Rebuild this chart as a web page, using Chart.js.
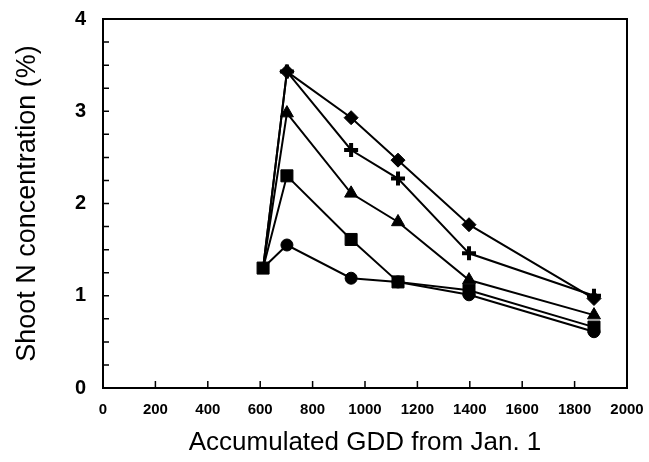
<!DOCTYPE html>
<html lang="en">
<head>
    <meta charset="UTF-8">
    <title>Shoot N concentration</title>
    <script src="https://cdn.jsdelivr.net/npm/chart.js"></script>
    <style>
        body {
            margin: 0;
            padding: 0;
            background: white;
        }
        .container {
            width: 649px;
            height: 462px;
        }
    </style>
</head>
<body>
    <div class="container">
        <canvas id="nChart" width="649" height="462"></canvas>
    </div>

    <script>
        // sampling dates, accumulated GDD from Jan. 1
        let gdd = [611, 702, 947, 1126, 1397, 1874];

        // shoot N concentration (%) for each treatment
        let diamondN = [1.30, 3.43, 2.93, 2.47, 1.77, 0.97];
        let crossN = [1.30, 3.43, 2.58, 2.27, 1.46, 1.00];
        let triangleN = [1.30, 2.98, 2.11, 1.80, 1.17, 0.79];
        let circleN = [1.30, 1.55, 1.19, 1.15, 1.01, 0.61];
        let squareN = [1.30, 2.30, 1.61, 1.15, 1.06, 0.66];

        let xTicks = [0, 200, 400, 600, 800, 1000, 1200, 1400, 1600, 1800, 2000];
        let yTicks = [0, 1, 2, 3, 4];

        function toPoints(values) {
            return values.map((v, i) => ({ x: gdd[i], y: v }));
        }

        function series(values, style, radius, width) {
            return {
                data: toPoints(values),
                pointStyle: style,
                borderColor: "black",
                backgroundColor: "black",
                borderWidth: 2,
                pointBorderWidth: width,
                pointRadius: ctx => (style !== "rect" && ctx.dataIndex === 0) ? 0 : radius,
                fill: false,
                tension: 0
            };
        }

        // frame and inward tick marks
        const frame = {
            id: "frame",
            afterDraw(chart) {
                let ctx = chart.ctx;
                let a = chart.chartArea;
                let xs = chart.scales.x;
                let ys = chart.scales.y;
                ctx.save();
                ctx.strokeStyle = "black";
                ctx.lineWidth = 2;
                ctx.strokeRect(a.left, a.top, a.right - a.left, a.bottom - a.top);
                ctx.lineWidth = 1.5;
                ctx.beginPath();
                xs.ticks.forEach(t => {
                    let px = xs.getPixelForValue(t.value);
                    ctx.moveTo(px, a.bottom);
                    ctx.lineTo(px, a.bottom - 7);
                });
                ys.ticks.forEach(t => {
                    let py = ys.getPixelForValue(t.value);
                    ctx.moveTo(a.left, py);
                    ctx.lineTo(a.left + 6, py);
                });
                ctx.stroke();
                ctx.restore();
            }
        };

        var nChart = new Chart(document.getElementById("nChart"), {
            type: "line",
            plugins: [frame],
            data: {
                datasets: [
                    series(diamondN, "rectRot", 7, 1),
                    series(crossN, "cross", 7, 4),
                    series(triangleN, "triangle", 7.5, 1),
                    series(circleN, "circle", 6, 1),
                    series(squareN, "rect", 8.5, 1)
                ]
            },
            options: {
                responsive: false,
                animation: false,
                layout: { padding: { top: 19, right: 22, left: 0, bottom: 0 } },
                plugins: {
                    legend: { display: false },
                    tooltip: { enabled: false }
                },
                scales: {
                    x: {
                        type: "linear",
                        min: 0,
                        max: 2000,
                        afterBuildTicks: scale => { scale.ticks = xTicks.map(v => ({ value: v })); },
                        afterFit: scale => {
                            scale.height = 74;
                            scale.paddingLeft = 0;
                            scale.paddingRight = 0;
                        },
                        grid: { display: false, drawTicks: false },
                        border: { display: false },
                        ticks: {
                            padding: 13,
                            color: "black",
                            maxRotation: 0,
                            autoSkip: false,
                            callback: v => String(v),
                            font: { family: "Liberation Sans", size: 15, weight: "bold" }
                        },
                        title: {
                            display: true,
                            text: "Accumulated GDD from Jan. 1",
                            color: "black",
                            padding: { top: 6, bottom: 4 },
                            font: { family: "Liberation Sans", size: 26 }
                        }
                    },
                    y: {
                        type: "linear",
                        min: 0,
                        max: 4,
                        afterBuildTicks: scale => {
                            let t = [];
                            for (let i = 0; i <= 16; i++) t.push({ value: i / 4 });
                            scale.ticks = t;
                        },
                        afterFit: scale => {
                            scale.width = 103;
                            scale.paddingTop = 0;
                            scale.paddingBottom = 0;
                        },
                        grid: { display: false, drawTicks: false },
                        border: { display: false },
                        ticks: {
                            padding: 17,
                            color: "black",
                            autoSkip: false,
                            callback: v => yTicks.includes(v) ? String(v) : "",
                            font: { family: "Liberation Sans", size: 20, weight: "bold" }
                        },
                        title: {
                            display: true,
                            text: "Shoot N concentration (%)",
                            color: "black",
                            padding: { top: 11, bottom: 0 },
                            font: { family: "Liberation Sans", size: 27 }
                        }
                    }
                }
            }
        });
    </script>
</body>
</html>
